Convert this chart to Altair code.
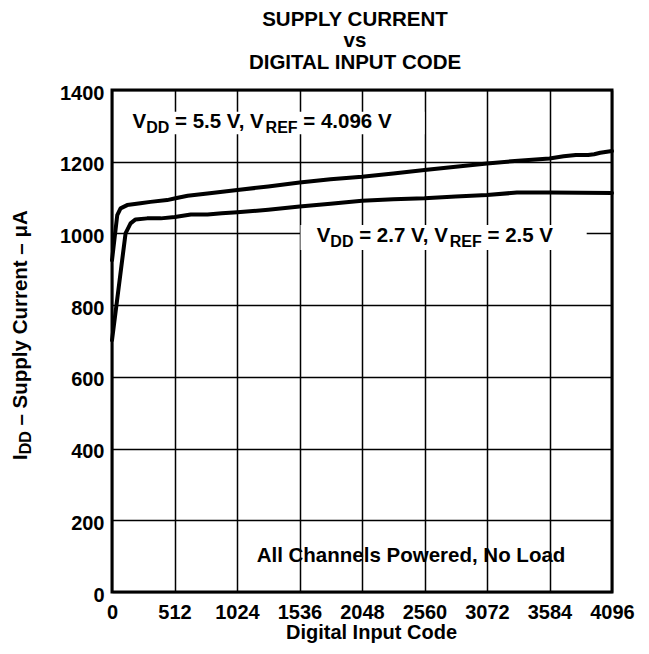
import altair as alt
import pandas as pd

# ---- data ----
x_ticks = [0, 512, 1024, 1536, 2048, 2560, 3072, 3584, 4096]
y_ticks = [0, 200, 400, 600, 800, 1000, 1200, 1400]

codes_55 = [0, 43, 70, 124, 233, 315, 452, 520, 620, 800, 1027, 1280, 1537, 1790,
            2048, 2304, 2560, 2816, 3072, 3328, 3584, 3700, 3800, 3900, 3950, 4000, 4096]
idd_55 = [925, 1051, 1070, 1079, 1084, 1088, 1093, 1098, 1105, 1112, 1121, 1131, 1142, 1151,
          1158, 1167, 1177, 1186, 1195, 1203, 1209, 1215, 1219, 1219, 1221, 1225, 1230]

codes_27 = [0, 111, 152, 193, 288, 400, 515, 646, 782, 900, 1027, 1280, 1537, 1790,
            2048, 2304, 2560, 2816, 3072, 3317, 3584, 4096]
idd_27 = [702, 1000, 1028, 1039, 1042, 1042, 1046, 1053, 1053, 1056, 1059, 1066, 1075, 1083,
          1091, 1095, 1098, 1103, 1107, 1114, 1114, 1113]

FONT = "Liberation Sans"

df = pd.concat([
    pd.DataFrame({"code": codes_55, "idd": idd_55, "series": "VDD 5.5 V"}),
    pd.DataFrame({"code": codes_27, "idd": idd_27, "series": "VDD 2.7 V"}),
])

x_enc = alt.X("code:Q",
              scale=alt.Scale(domain=[0, 4096], nice=False, zero=False),
              axis=alt.Axis(values=x_ticks, format="d", title="Digital Input Code",
                            labelFontSize=20, labelFont=FONT, labelFontWeight="bold",
                            labelColor="black", tickSize=0, domain=False,
                            grid=True, gridColor="black", gridWidth=1.5, gridOpacity=1,
                            labelPadding=10, labelFlush=False, labelOverlap=False,
                            titleFont=FONT, titleFontSize=20, titleFontWeight="bold",
                            titleColor="black", titleX=259, titleY=46,
                            titleBaseline="alphabetic", titleAlign="center"))
y_enc = alt.Y("idd:Q",
              scale=alt.Scale(domain=[0, 1400], nice=False),
              axis=alt.Axis(values=y_ticks, format="d", title=None,
                            labelFontSize=20, labelFont=FONT, labelFontWeight="bold",
                            labelColor="black", tickSize=0, domain=False,
                            grid=True, gridColor="black", gridWidth=1.5, gridOpacity=1,
                            labelPadding=8, labelOffset=3, labelFlush=False,
                            labelOverlap=False))

lines = alt.Chart(df).mark_line(color="black", strokeWidth=4, strokeJoin="round",
                                strokeCap="round").encode(
    x=x_enc, y=y_enc, detail="series:N", order="code:Q")

one = pd.DataFrame({"k": [0]})


def box(x1, x2, y1, y2):
    return alt.Chart(one).mark_rect(color="white").encode(
        x=alt.value(x1), x2=alt.value(x2), y=alt.value(y1), y2=alt.value(y2))


def piece(text, px, py, size, angle=0, align="left"):
    return alt.Chart(pd.DataFrame({"t": [text]})).mark_text(
        align=align, baseline="alphabetic", font=FONT, fontWeight="bold",
        fontSize=size, color="black", angle=angle).encode(
        x=alt.value(px), y=alt.value(py), text="t:N")


MAIN, SUB, SUBDROP = 20.5, 16, 5
# Arial/Liberation bold advance widths (em)
W = {"V": 0.667, "D": 0.722, "R": 0.722, "E": 0.667, "F": 0.611, " ": 0.278, "=": 0.584,
     ".": 0.278, ",": 0.278, "I": 0.278, "–": 0.556, "μ": 0.611, "A": 0.722,
     "S": 0.667, "u": 0.611, "p": 0.611, "l": 0.278, "y": 0.556, "C": 0.722,
     "r": 0.389, "e": 0.556, "n": 0.611, "t": 0.333}


def width(s, size):
    return sum(W.get(c, 0.556) for c in s) * size


def label(parts, px, py):
    # parts: (text, is_subscript); a leading space is turned into an offset,
    # because SVG drops leading whitespace
    layers = []
    x = px
    for txt, sub in parts:
        size = SUB if sub else MAIN
        lead = len(txt) - len(txt.lstrip(" "))
        x += lead * W[" "] * size
        core = txt.lstrip(" ")
        layers.append(piece(core, x, py + (SUBDROP if sub else 0), size))
        x += width(core, size)
    return layers


ann1 = label([("V", False), ("DD", True), (" = 5.5 V, V", False), ("REF", True),
              (" = 4.096 V", False)], 20.5, 38.3)
ann2 = label([("V", False), ("DD", True), (" = 2.7 V, V", False), ("REF", True),
              (" = 2.5 V", False)], 204.7, 151.7)
ann3 = piece("All Channels Powered, No Load", 299, 472, 20.5, align="center")

# rotated y-axis title with subscript
YF, YS = 20.5, 16
ybx, byy = -85, 370
y1 = byy - width("I", YF)
y2 = y1 - width("DD", YS) - width(" ", YF)
ytitle = [
    piece("I", ybx, byy, YF, 270),
    piece("DD", ybx + 4, y1, YS, 270),
    piece("– Supply Current – μA", ybx, y2, YF, 270),
]

chart = alt.layer(
    lines,
    box(16, 312.5, 21.7, 44.3),
    box(188.5, 474.7, 135, 160),
    *ann1, *ann2, ann3, *ytitle,
).properties(
    width=500, height=502,
    padding={"left": 104, "top": 82, "right": 29, "bottom": 60},
    autosize=alt.AutoSizeParams(type="none"),
    title=alt.TitleParams(text=["SUPPLY CURRENT", "vs", "DIGITAL INPUT CODE"],
                          font=FONT, fontSize=20.5, fontWeight="bold", lineHeight=21.5,
                          color="black", offset=10, dx=-7, anchor="middle"),
).configure_view(stroke="black", strokeWidth=3)

chart.save("out.html", embed_options={"renderer": "svg", "actions": False})
